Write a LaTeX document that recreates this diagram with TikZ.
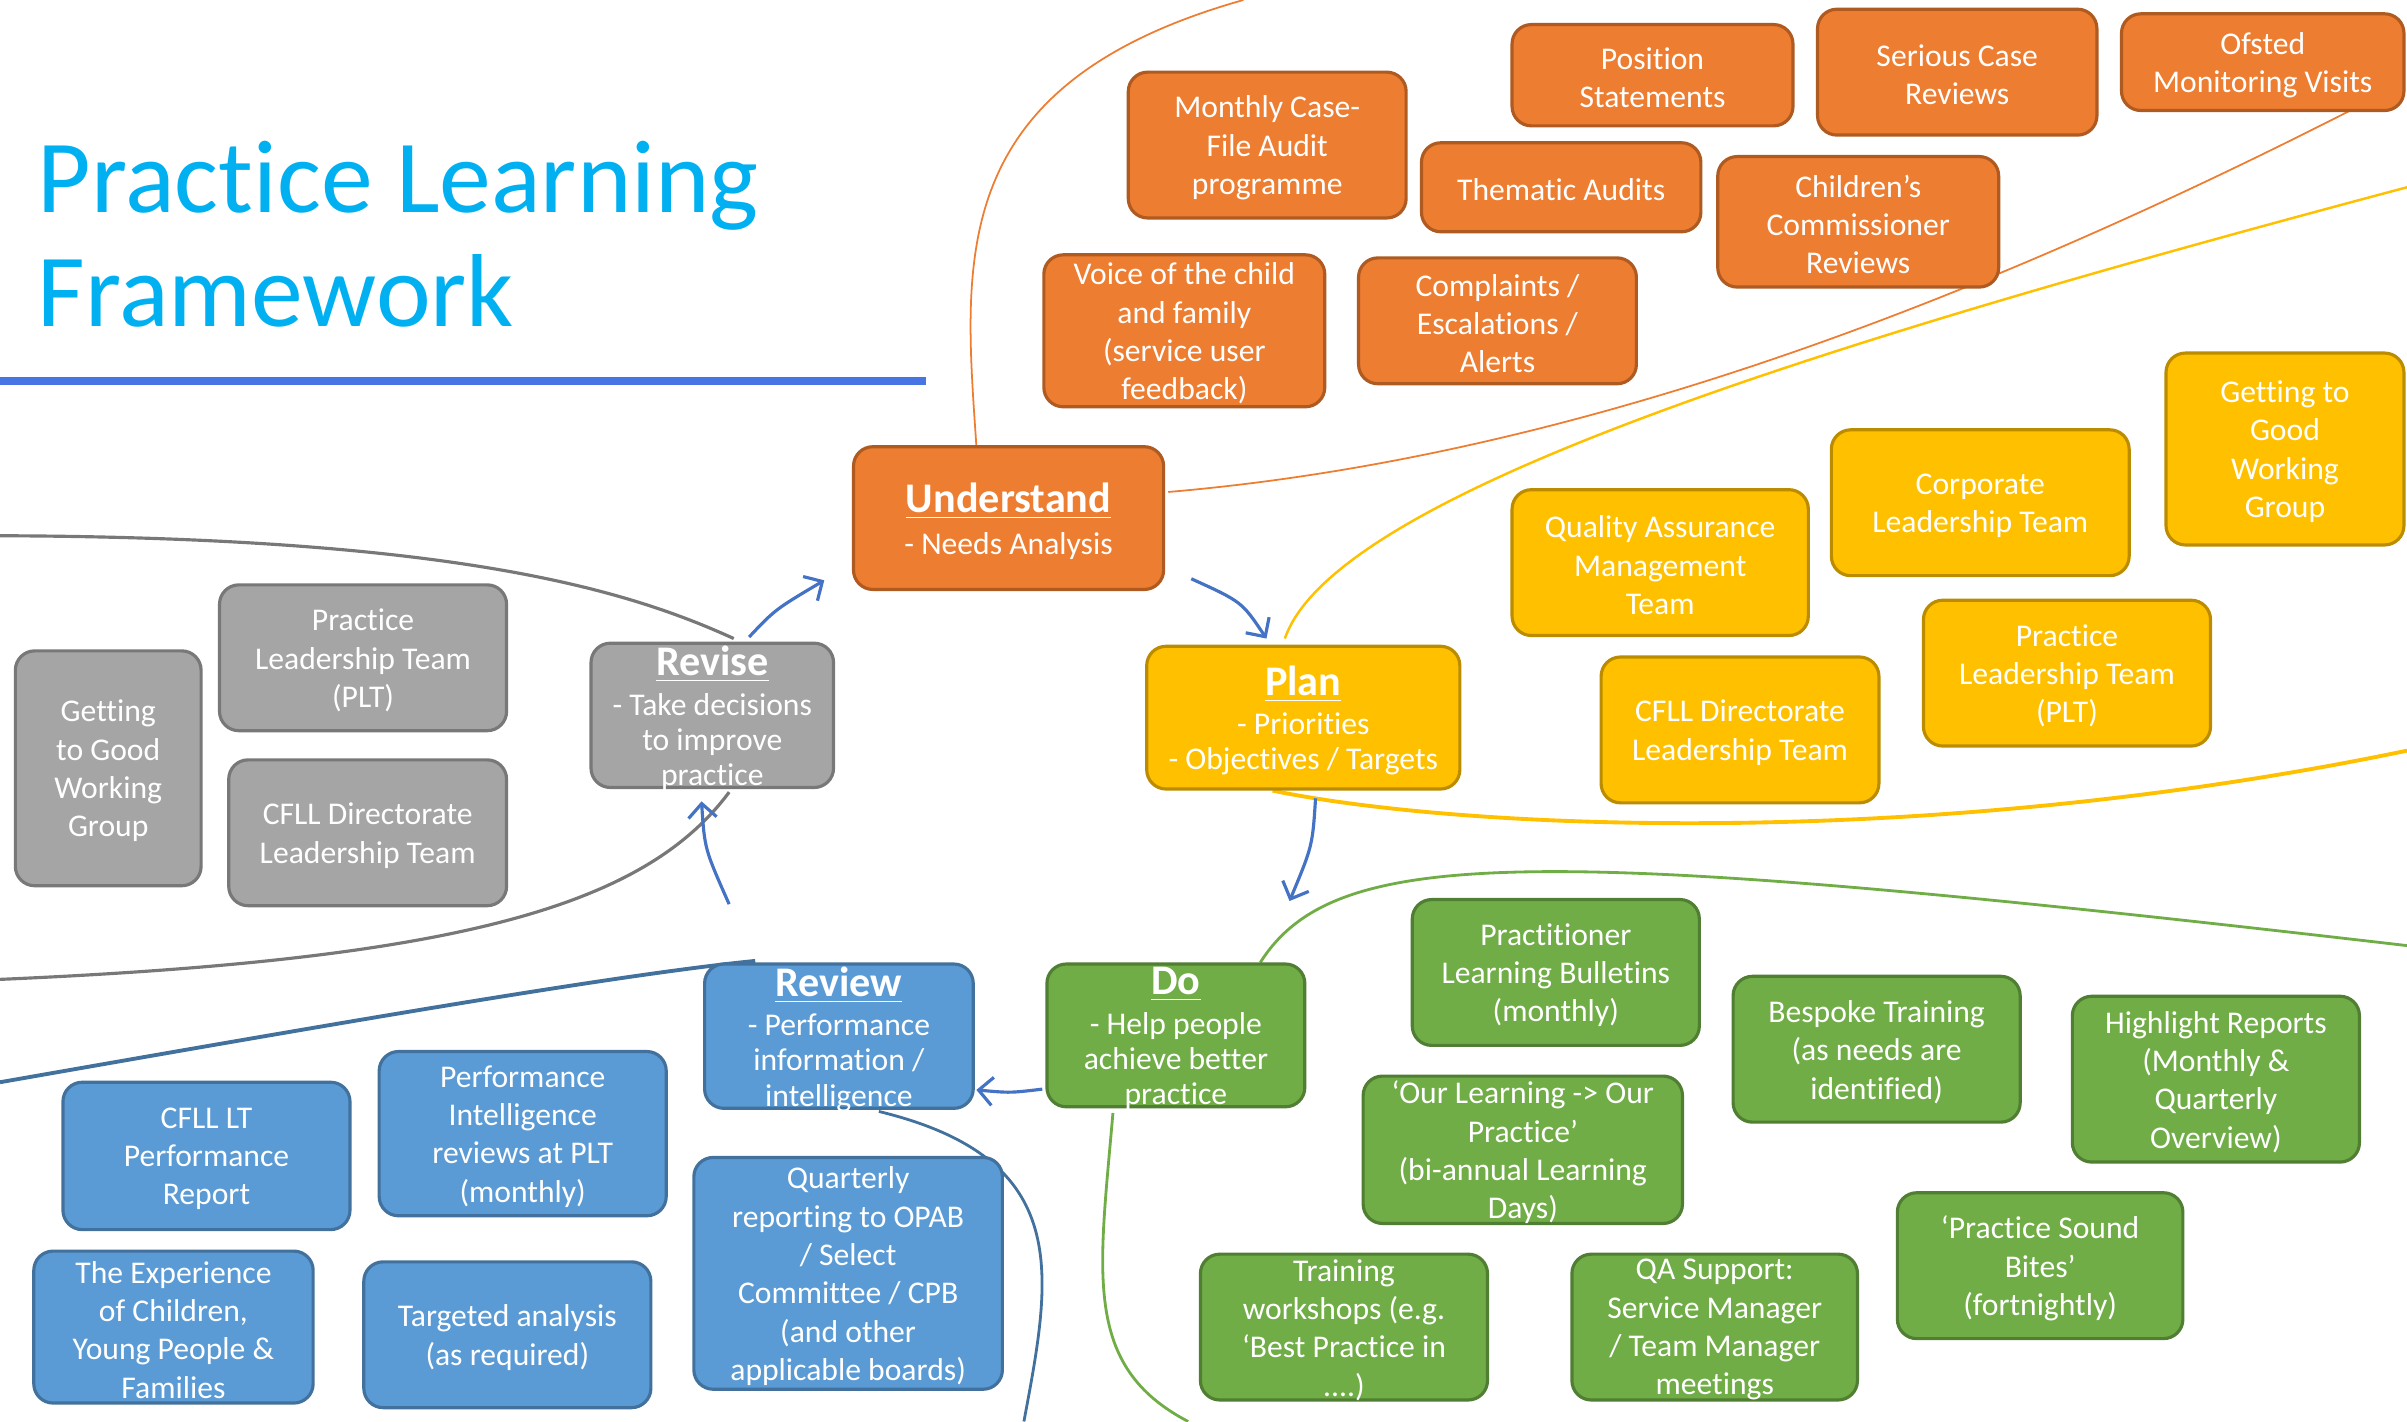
\documentclass[tikz,border=0pt]{standalone}
\usepackage{fontspec}
\setmainfont{Carlito}[Ligatures={TeX,NoCommon}]
\usetikzlibrary{arrows.meta,calc,fit,backgrounds}

\definecolor{orfill}{HTML}{ED7D31}
\definecolor{ordraw}{HTML}{AE5A21}
\definecolor{yefill}{HTML}{FFC000}
\definecolor{yedraw}{HTML}{BC8C00}
\definecolor{grfill}{HTML}{70AD47}
\definecolor{grdraw}{HTML}{507E32}
\definecolor{blfill}{HTML}{5B9BD5}
\definecolor{bldraw}{HTML}{41719C}
\definecolor{gyfill}{HTML}{A5A5A5}
\definecolor{gydraw}{HTML}{787878}
\definecolor{titleblue}{HTML}{00B0F0}
\definecolor{titlerule}{HTML}{4775E3}
\definecolor{loopblue}{HTML}{4472C4}

\tikzset{
  card/.style={rounded corners=5.5pt, line width=0.9pt, inner sep=0pt},
  orcard/.style={card, fill=orfill, draw=ordraw},
  yecard/.style={card, fill=yefill, draw=yedraw},
  grcard/.style={card, fill=grfill, draw=grdraw},
  blcard/.style={card, fill=blfill, draw=bldraw},
  gycard/.style={card, fill=gyfill, draw=gydraw},
  cardtext/.style={text=white, align=center, inner sep=0pt, yshift=-0.8pt, font=\fontsize{9}{10.9}\selectfont},
  headtext/.style={cardtext, font=\fontsize{9}{10}\selectfont},
  titletext/.style={anchor=base west, inner sep=0pt, text=titleblue, font=\fontsize{29.5}{32}\selectfont},
  looparrow/.style={draw=loopblue, line width=0.9pt, -{Straight Barb[length=4pt,width=8pt]}},
  branch/.style={line width=0.5pt},
}
\newcommand{\head}[1]{{\fontsize{12}{14}\selectfont\bfseries\underline{#1}}}

\begin{document}
\begin{tikzpicture}[x=0.015351cm, y=-0.015351cm]
\useasboundingbox (0,0) rectangle (1568,926);

% title
\node[titletext] (title1) at (24,138.5) {Practice Learning};
\node[titletext] (title2) at (24,213) {Framework};
\draw[titlerule, line width=2.2pt] (0,248) -- (603,248);

% understand
\node[orcard, fit={(735,47)(916,142)}] (audit) {};
\node[cardtext] (audit-t) at (audit) {Monthly Case-\\File Audit\\programme};
\node[orcard, fit={(985,16)(1168,82)}] (position) {};
\node[cardtext] (position-t) at (position) {Position\\Statements};
\node[orcard, fit={(1184,6)(1366,88)}] (serious) {};
\node[cardtext] (serious-t) at (serious) {Serious Case\\Reviews};
\node[orcard, fit={(1382,9)(1566,72)}] (ofsted) {};
\node[cardtext] (ofsted-t) at (ofsted) {Ofsted\\Monitoring Visits};
\node[orcard, fit={(926,93)(1108,151)}] (thematic) {};
\node[cardtext] (thematic-t) at (thematic) {Thematic Audits};
\node[orcard, fit={(1119,102)(1302,187)}] (commissioner) {};
\node[cardtext] (commissioner-t) at (commissioner) {Children’s\\Commissioner\\Reviews};
\node[orcard, fit={(680,166)(863,265)}] (voice) {};
\node[cardtext] (voice-t) at (voice) {Voice of the child\\and family\\(service user\\feedback)};
\node[orcard, fit={(885,168)(1066,250)}] (complaints) {};
\node[cardtext] (complaints-t) at (complaints) {Complaints /\\Escalations /\\Alerts};
\node[orcard, fit={(556,291)(758,384)}] (understand) {};
\node[headtext] (understand-t) at (understand) {\head{Understand}\\[2pt]- Needs Analysis};

% plan
\node[yecard, fit={(1411,230)(1566,355)}] (ggwg) {};
\node[cardtext] (ggwg-t) at (ggwg) {Getting to\\Good\\Working\\Group};
\node[yecard, fit={(1193,280)(1387,375)}] (clt) {};
\node[cardtext] (clt-t) at (clt) {Corporate\\Leadership Team};
\node[yecard, fit={(985,319)(1178,414)}] (qam) {};
\node[cardtext] (qam-t) at (qam) {Quality Assurance\\Management\\Team};
\node[yecard, fit={(1253,391)(1440,486)}] (plt) {};
\node[cardtext] (plt-t) at (plt) {Practice\\Leadership Team\\(PLT)};
\node[yecard, fit={(1043,428)(1224,523)}] (cdlt) {};
\node[cardtext] (cdlt-t) at (cdlt) {CFLL Directorate\\Leadership Team};
\node[yecard, fit={(747,421)(951,514)}] (plan) {};
\node[headtext] (plan-t) at (plan) {\head{Plan}\\[1.3pt]- Priorities\\- Objectives / Targets};

% do
\node[grcard, fit={(920,586)(1107,681)}] (bulletins) {};
\node[cardtext] (bulletins-t) at (bulletins) {Practitioner\\Learning Bulletins\\(monthly)};
\node[grcard, fit={(1129,636)(1316,731)}] (bespoke) {};
\node[cardtext] (bespoke-t) at (bespoke) {Bespoke Training\\(as needs are\\identified)};
\node[grcard, fit={(1350,649)(1537,757)}] (highlight) {};
\node[cardtext] (highlight-t) at (highlight) {Highlight Reports\\(Monthly \&\\Quarterly\\Overview)};
\node[grcard, fit={(888,701)(1096,797)}] (ourlearning) {};
\node[cardtext] (ourlearning-t) at (ourlearning) {‘Our Learning -> Our\\Practice’\\(bi-annual Learning\\Days)};
\node[grcard, fit={(1236,777)(1422,872)}] (soundbites) {};
\node[cardtext] (soundbites-t) at (soundbites) {‘Practice Sound\\Bites’\\(fortnightly)};
\node[grcard, fit={(782,817)(969,912)}] (workshops) {};
\node[cardtext] (workshops-t) at (workshops) {Training\\workshops (e.g.\\‘Best Practice in\\....)};
\node[grcard, fit={(1024,817)(1210,912)}] (qasupport) {};
\node[cardtext] (qasupport-t) at (qasupport) {QA Support:\\Service Manager\\/ Team Manager\\meetings};
\node[grcard, fit={(682,628)(850,721)}] (do) {};
\node[headtext] (do-t) at (do) {\head{Do}\\[1.3pt]- Help people\\achieve better\\practice};

% review
\node[blcard, fit={(459,628)(634,722)}] (review) {};
\node[headtext] (review-t) at (review) {\head{Review}\\[1.3pt]- Performance\\information /\\intelligence};
\node[blcard, fit={(41,705)(228,801)}] (ltreport) {};
\node[cardtext] (ltreport-t) at (ltreport) {CFLL LT\\Performance\\Report};
\node[blcard, fit={(247,685)(434,792)}] (pireviews) {};
\node[cardtext] (pireviews-t) at (pireviews) {Performance\\Intelligence\\reviews at PLT\\(monthly)};
\node[blcard, fit={(22,815)(204,914)}] (experience) {};
\node[cardtext] (experience-t) at (experience) {The Experience\\of Children,\\Young People \&\\Families};
\node[blcard, fit={(237,822)(424,917)}] (targeted) {};
\node[cardtext] (targeted-t) at (targeted) {Targeted analysis\\(as required)};
\node[blcard, fit={(452,754)(653,905)}] (quarterly) {};
\node[cardtext] (quarterly-t) at (quarterly) {Quarterly\\reporting to OPAB\\/ Select\\Committee / CPB\\(and other\\applicable boards)};

% revise
\node[gycard, fit={(10,424)(131,577)}] (gggray) {};
\node[cardtext] (gggray-t) at (gggray) {Getting\\to Good\\Working\\Group};
\node[gycard, fit={(143,381)(330,476)}] (pltgray) {};
\node[cardtext] (pltgray-t) at (pltgray) {Practice\\Leadership Team\\(PLT)};
\node[gycard, fit={(149,495)(330,590)}] (cdltgray) {};
\node[cardtext] (cdltgray-t) at (cdltgray) {CFLL Directorate\\Leadership Team};
\node[gycard, fit={(385,419)(543,513)}] (revise) {};
\node[headtext] (revise-t) at (revise) {\head{Revise}\\[1.3pt]- Take decisions\\to improve\\practice};

% branch lines behind the cards
\begin{scope}[on background layer]
\draw[branch, orfill] ($(understand.north)+(-21,0)$) .. controls (628,170) and (615,55) .. (810,0);
\draw[branch, orfill] ($(understand.east)+(2,-17)$) .. controls (1000,300) and (1250,215) .. ($(ofsted.south)+(57,-1)$);
\draw[branch, yefill, line width=0.7pt] ($(plan.north)+(-12,-4)$) .. controls (870,320) and (1200,220) .. (1568,122);
\draw[branch, yefill, line width=1.1pt] ($(plan.south)+(-20,0)$) .. controls (950,540) and (1250,555) .. (1568,489);
\draw[branch, grfill, line width=0.8pt] ($(do.north)+(55,0)$) .. controls (870,550) and (1000,550) .. (1568,616);
\draw[branch, grfill, line width=0.8pt] ($(do.south)+(-41,3)$) .. controls (716,830) and (705,890) .. (774,926);
\draw[branch, bldraw, line width=1.1pt] ($(review.north west)+(34,-1)$) .. controls (400,635) and (200,670) .. (0,705);
\draw[branch, bldraw, line width=0.8pt] ($(review.south)+(26,1)$) .. controls (700,755) and (685,830) .. (667,926);
\draw[branch, gydraw, line width=0.9pt] ($(revise.north)+(14,-2)$) .. controls (410,385) and (300,350) .. (0,349);
\draw[branch, gydraw, line width=0.9pt] ($(revise.south)+(11,2)$) .. controls (420,590) and (300,625) .. (0,638);
\end{scope}

% the cycle
\draw[looparrow] ($(revise.north)+(24,-3)$) .. controls (505,397) .. ($(understand.south west)+(-18,-7)$);
\draw[looparrow] ($(understand.south east)+(17,-8)$) .. controls (809,392) .. ($(plan.north)+(-24,-4)$);
\draw[looparrow] ($(plan.south)+(8,5)$) .. controls (855,551) .. ($(do.north east)+(-11,-40)$);
\draw[looparrow] ($(do.west)+(-2,35)$) .. controls (658,712) .. ($(review.east)+(1,35)$);
\draw[looparrow] ($(review.north west)+(17,-38)$) .. controls (459,553) .. ($(revise.south)+(-7,8)$);

\end{tikzpicture}
\end{document}
